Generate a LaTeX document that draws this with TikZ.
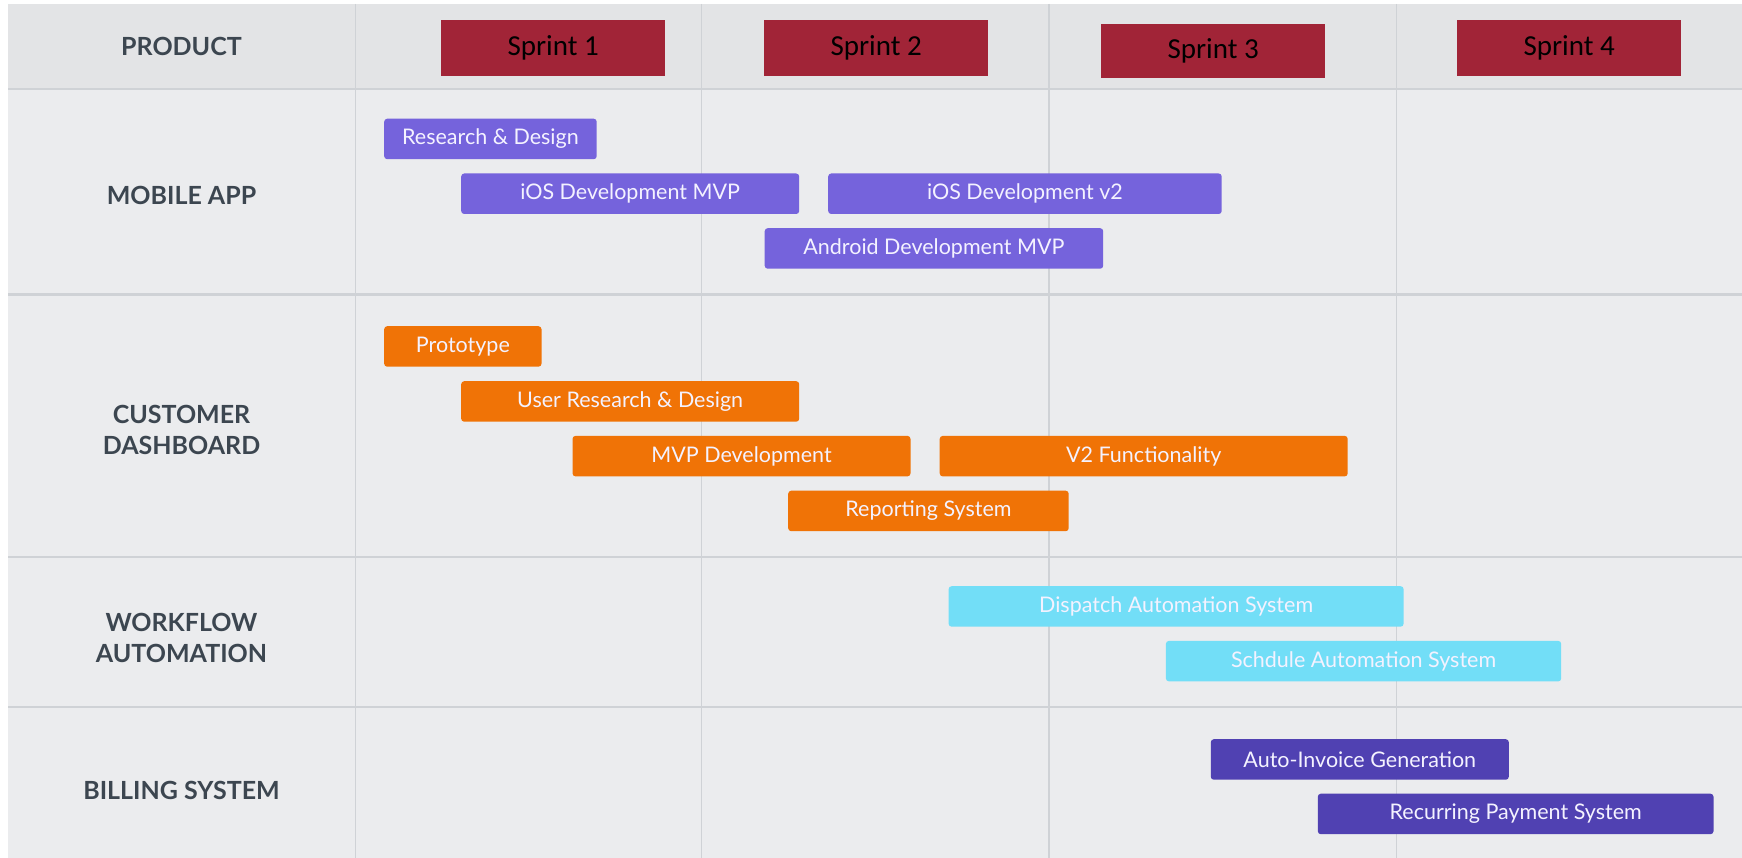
\documentclass[tikz,border=0pt]{standalone}
\usepackage{fontspec}
\setmainfont{Lato}
\newfontfamily\sprintfont{Carlito}
\usepackage{tikz}
\usetikzlibrary{positioning}

\definecolor{headgray}{HTML}{E3E4E6}
\definecolor{bodygray}{HTML}{EBECEE}
\definecolor{gridgray}{HTML}{CFD2D6}
\definecolor{labelslate}{HTML}{3C4650}
\definecolor{sprintred}{HTML}{A12437}
\definecolor{mobilepurple}{HTML}{7563DC}
\definecolor{dashorange}{HTML}{F07306}
\definecolor{flowcyan}{HTML}{72DEF7}
\definecolor{billpurple}{HTML}{5041B2}
\definecolor{bartext}{HTML}{F4F2FF}

\begin{document}
\begin{tikzpicture}[x=1pt, y=-1pt,
  rowlabel/.style={text=labelslate, align=center,
    font=\fontsize{25}{31.5}\selectfont\bfseries},
  sprintbox/.style={fill=sprintred, anchor=north west, inner sep=0pt,
    minimum width=224pt, minimum height=56pt,
    font=\sprintfont\fontsize{29}{32}\selectfont},
  bar/.style={anchor=north west, inner sep=0pt, minimum height=40.5pt,
    rounded corners=3pt, text=bartext, font=\fontsize{21.5}{25}\selectfont},
  gridline/.style={draw=gridgray, line width=1.5pt},
  rowline/.style={draw=gridgray, line width=2.2pt}]

  \useasboundingbox (0,0) rectangle (1742,858);

  % Background
  \fill[white] (0,0) rectangle (1742,858);
  \fill[bodygray] (8,4) rectangle (1742,858);
  \fill[headgray] (8,4) rectangle (1742,89);

  % Grid
  \draw[gridline] (355.5,4) -- (355.5,858);
  \draw[gridline] (701.5,4) -- (701.5,858);
  \draw[gridline] (1049,4) -- (1049,858);
  \draw[gridline] (1396.5,4) -- (1396.5,858);
  \draw[rowline] (8,89) -- (1742,89);
  \draw[rowline] (8,294.5) -- (1742,294.5);
  \draw[rowline] (8,557) -- (1742,557);
  \draw[rowline] (8,707) -- (1742,707);

  % Row labels
  \node[rowlabel] (product) at (181.5,46.5) {PRODUCT};
  \node[rowlabel] (mobile) at (181.5,195) {MOBILE APP};
  \node[rowlabel] (dashboard) at (181.5,430) {CUSTOMER\\DASHBOARD};
  \node[rowlabel] (workflow) at (181.5,638) {WORKFLOW\\AUTOMATION};
  \node[rowlabel] (billing) at (181.5,790) {BILLING SYSTEM};

  % Sprints
  \node[sprintbox] (sprint1) at (441,20) {Sprint 1};
  \node[sprintbox] (sprint2) at (764,20) {Sprint 2};
  \node[sprintbox, minimum height=54pt] (sprint3) at (1101,24) {Sprint 3};
  \node[sprintbox] (sprint4) at (1457,20) {Sprint 4};

  % Mobile app
  \node[bar, fill=mobilepurple, minimum width=212.5pt] (resdesign) at (384,118.5) {Research \& Design};
  \node[bar, fill=mobilepurple, minimum width=338pt] (iosmvp) at (461,173.3) {iOS Development MVP};
  \node[bar, fill=mobilepurple, minimum width=393.5pt] (iosvtwo) at (828,173.3) {iOS Development v2};
  \node[bar, fill=mobilepurple, minimum width=338.5pt] (androidmvp) at (764.5,228) {Android Development MVP};

  % Customer dashboard
  \node[bar, fill=dashorange, minimum width=157.3pt] (prototype) at (384,326) {Prototype};
  \node[bar, fill=dashorange, minimum width=338pt] (userresearch) at (461,381) {User Research \& Design};
  \node[bar, fill=dashorange, minimum width=338pt] (mvpdev) at (572.3,435.7) {MVP Development};
  \node[bar, fill=dashorange, minimum width=408pt] (vtwofunc) at (939.5,435.7) {V2 Functionality};
  \node[bar, fill=dashorange, minimum width=280.5pt] (reporting) at (788,490.5) {Reporting System};

  % Workflow automation
  \node[bar, fill=flowcyan, minimum width=455pt] (dispatch) at (948.4,586) {Dispatch Automation System};
  \node[bar, fill=flowcyan, minimum width=395.3pt] (schedule) at (1165.7,640.7) {Schdule Automation System};

  % Billing system
  \node[bar, fill=billpurple, minimum width=298pt] (autoinvoice) at (1210.6,739) {Auto-Invoice Generation};
  \node[bar, fill=billpurple, minimum width=395.7pt] (recurring) at (1317.6,793.5) {Recurring Payment System};

\end{tikzpicture}
\end{document}
